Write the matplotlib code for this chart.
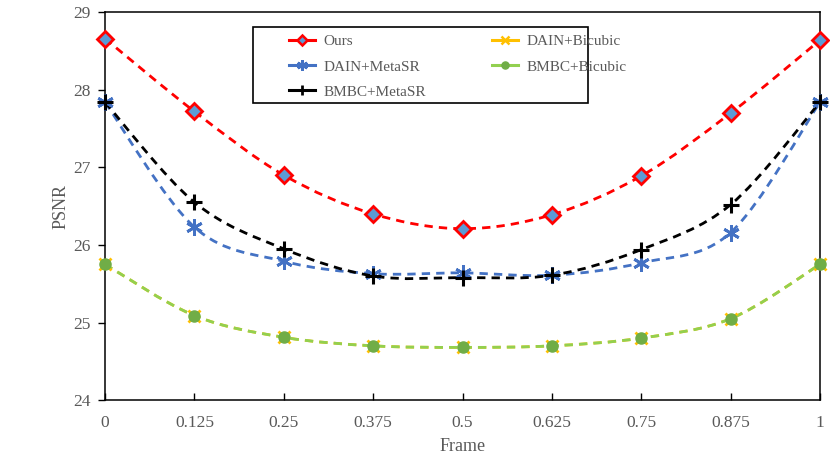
import numpy as np
import matplotlib.pyplot as plt
from matplotlib.path import Path
from matplotlib.patches import PathPatch, Rectangle
from matplotlib.lines import Line2D

plt.rcParams['font.family'] = ['Liberation Serif', 'DejaVu Serif']

# ----- DATA -----
frames = [0, 0.125, 0.25, 0.375, 0.5, 0.625, 0.75, 0.875, 1]
frame_labels = ['0', '0.125', '0.25', '0.375', '0.5', '0.625', '0.75', '0.875', '1']

ours = [28.66, 27.72, 26.90, 26.40, 26.21, 26.39, 26.89, 27.70, 28.64]
dain_metasr = [27.84, 26.23, 25.79, 25.63, 25.64, 25.61, 25.77, 26.16, 27.84]
bmbc_metasr = [27.84, 26.55, 25.95, 25.60, 25.58, 25.61, 25.94, 26.52, 27.84]
dain_bicubic = [25.75, 25.09, 24.81, 24.70, 24.68, 24.70, 24.80, 25.05, 25.75]
bmbc_bicubic = [25.75, 25.09, 24.81, 24.70, 24.68, 24.70, 24.80, 25.05, 25.75]


def smooth_path(xs, ys):
    # Catmull-Rom style cubic bezier through the points (like Excel's smoothed line)
    pts = np.column_stack([xs, ys]).astype(float)
    n = len(pts)
    verts = [pts[0]]
    codes = [Path.MOVETO]
    for i in range(n - 1):
        p0 = pts[i - 1] if i > 0 else pts[i]
        p1 = pts[i]
        p2 = pts[i + 1]
        p3 = pts[i + 2] if i + 2 < n else pts[i + 1]
        c1 = p1 + (p2 - p0) / 6.0
        c2 = p2 - (p3 - p1) / 6.0
        verts += [c1, c2, p2]
        codes += [Path.CURVE4] * 3
    return Path(verts, codes)


fig = plt.figure(figsize=(8.3, 4.68), dpi=100)
ax = fig.add_axes([0.1265, 0.145, 0.8615, 0.829])

series = [
    ('Ours', ours, dict(color='#FF0000', marker='D', ms=8, mfc='#5B9BD5', mec='#FF0000', mew=2)),
    ('DAIN+MetaSR', dain_metasr, dict(color='#4472C4', marker=(6, 2, 0), ms=12, mfc='#4472C4', mec='#4472C4', mew=2)),
    ('BMBC+MetaSR', bmbc_metasr, dict(color='#000000', marker='+', ms=12, mfc='k', mec='k', mew=2.2)),
    ('DAIN+Bicubic', dain_bicubic, dict(color='#FFC000', marker='x', ms=9, mfc='#FFC000', mec='#FFC000', mew=2)),
    ('BMBC+Bicubic', bmbc_bicubic, dict(color='#92D050', marker='o', ms=8, mfc='#70AD47', mec='#70AD47', mew=1)),
]

# draw order: bottom pair first so green sits on yellow
order = [3, 4, 1, 2, 0]
handles = {}
for k in order:
    name, vals, st = series[k]
    patch = PathPatch(smooth_path(frames, vals), fill=False, edgecolor=st['color'],
                      linewidth=2.0, linestyle=(0, (3.0, 2.2)), zorder=2 + k * 0.1)
    ax.add_patch(patch)
    ax.plot(frames, vals, linestyle='none', marker=st['marker'], ms=st['ms'],
            mfc=st['mfc'], mec=st['mec'], mew=st['mew'], zorder=3 + k * 0.1, clip_on=False)
    handles[k] = Line2D([], [], color=st['color'], linewidth=2.2, linestyle='-',
                        marker=st['marker'], ms=st['ms'] * 0.65, mfc=st['mfc'], mec=st['mec'],
                        mew=st['mew'] * 0.9)

ax.set_xlim(0, 1)
ax.set_ylim(24, 29)
ax.set_xticks(frames)
ax.set_xticklabels(frame_labels)
ax.set_yticks([24, 25, 26, 27, 28, 29])

for s in ax.spines.values():
    s.set_linewidth(1.1)
ax.tick_params(axis='x', direction='in', length=5, width=1, colors='k', labelcolor='#595959',
               labelsize=12.5, pad=10.5)
ax.tick_params(axis='y', direction='out', length=5, width=1, colors='k', labelcolor='#595959',
               labelsize=12.5, pad=5)

ax.set_xlabel('Frame', fontsize=13, color='#595959', labelpad=5)
ax.set_ylabel('PSNR', fontsize=13, color='#595959', labelpad=3)

# legend frame drawn separately so its padding can match the reference
ax.add_patch(Rectangle((0.2066, 0.7655), 0.4689, 0.1951, transform=ax.transAxes,
                       fill=True, facecolor='white', edgecolor='k', linewidth=1.2, zorder=5))
leg = ax.legend([handles[i] for i in range(5)], [s[0] for s in series], ncol=2,
                loc='upper left', bbox_to_anchor=(0.2573, 0.942),
                fontsize=11, frameon=False, borderpad=0, borderaxespad=0,
                handlelength=1.7, handletextpad=0.55, labelspacing=0.75, columnspacing=4.35)
leg.set_zorder(6)
for t in leg.get_texts():
    t.set_color('#595959')

fig.savefig('out.png', dpi=100)
